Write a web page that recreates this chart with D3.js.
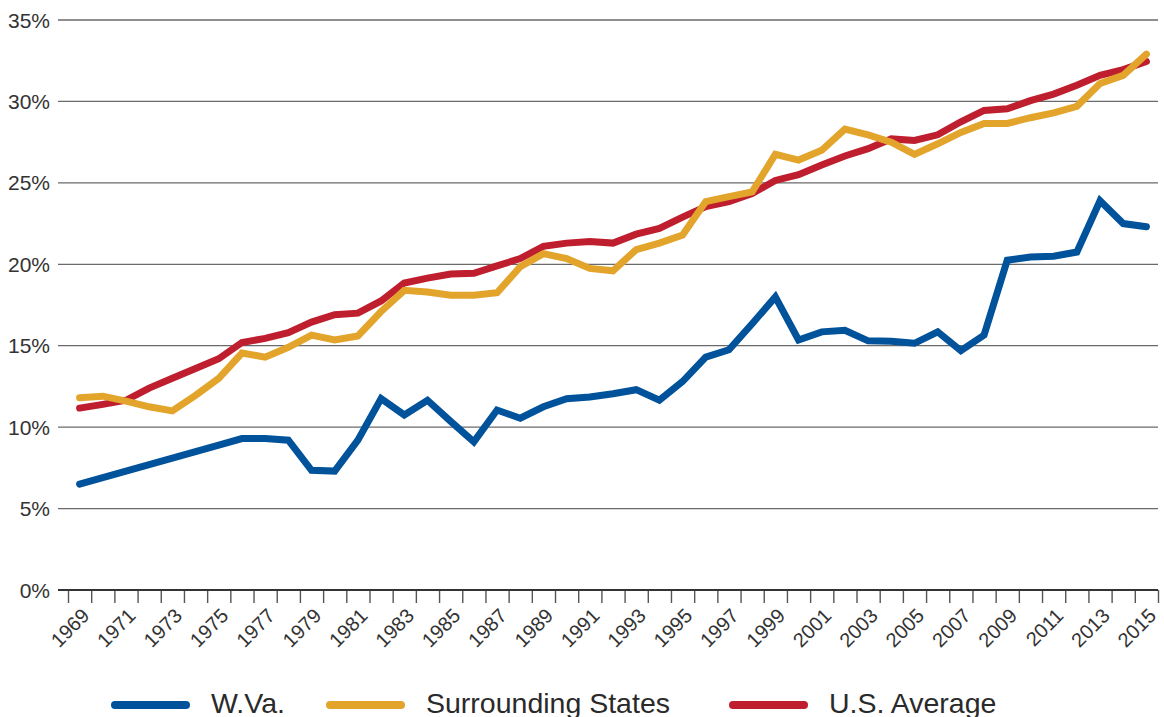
<!doctype html>
<html>
<head>
    <style>
        body {
            margin: 0;
            background: #fff;
            overflow: hidden;
            font-family: "Liberation Sans", Arial, "Helvetica", sans-serif;
        }
        svg { display: block; }
    </style>
    <script src="https://d3js.org/d3.v7.min.js"></script>
</head>
<body>
<svg width="1164" height="717"></svg>
<script>
    // years and series (percent)
    var years = d3.range(1969, 2016);
    var wva = [6.5, 6.9, 7.3, 7.7, 8.1, 8.5, 8.9, 9.3, 9.3, 9.2,
               7.35, 7.3, 9.2, 11.75, 10.75, 11.65, 10.35, 9.1, 11.05, 10.55,
               11.25, 11.75, 11.85, 12.05, 12.3, 11.65, 12.8, 14.3, 14.75, 16.35,
               18.0, 15.35, 15.85, 15.95, 15.3, 15.28, 15.15, 15.85, 14.7, 15.65,
               20.25, 20.45, 20.5, 20.75, 23.9, 22.5, 22.3];
    var surrounding = [11.8, 11.9, 11.6, 11.25, 11.0, 11.95, 13.0, 14.55, 14.3, 14.9,
               15.65, 15.35, 15.6, 17.1, 18.4, 18.3, 18.1, 18.1, 18.25, 19.85,
               20.65, 20.35, 19.75, 19.6, 20.9, 21.3, 21.8, 23.85, 24.15, 24.45,
               26.75, 26.4, 27.0, 28.3, 27.95, 27.5, 26.75, 27.4, 28.1, 28.65,
               28.65, 29.0, 29.3, 29.7, 31.1, 31.6, 32.9];
    var usAvg = [11.17, 11.4, 11.65, 12.4, 13.0, 13.6, 14.2, 15.2, 15.45, 15.8,
               16.45, 16.9, 17.0, 17.75, 18.85, 19.15, 19.4, 19.45, 19.9, 20.35,
               21.1, 21.3, 21.4, 21.3, 21.85, 22.2, 22.9, 23.55, 23.85, 24.35,
               25.15, 25.5, 26.1, 26.65, 27.1, 27.7, 27.6, 27.95, 28.75, 29.45,
               29.55, 30.05, 30.45, 31.0, 31.6, 31.95, 32.45];
    var yTicks = [0, 5, 10, 15, 20, 25, 30, 35];
    var labelYears = years.filter(function(d) { return d % 2 === 1; });

    var series = [
        { name: "W.Va.", values: wva, color: "#00529b" },
        { name: "U.S. Average", values: usAvg, color: "#be1e2d" },
        { name: "Surrounding States", values: surrounding, color: "#e2a42b" }
    ];
    var legendOrder = ["W.Va.", "Surrounding States", "U.S. Average"];

    var svg = d3.select("svg");
    var plotLeft = 58, plotRight = 1158, plotTop = 20, plotBottom = 590;

    var x = d3.scaleLinear().domain([1968.5, 2015.5]).range([68, plotRight]);
    var y = d3.scaleLinear().domain([0, 35]).range([plotBottom, plotTop]);

    // grid lines
    svg.append("g")
        .selectAll("line")
        .data(yTicks.filter(function(d) { return d > 0; }))
        .enter()
        .append("line")
        .attr("x1", plotLeft)
        .attr("x2", plotRight)
        .attr("y1", function(d) { return y(d); })
        .attr("y2", function(d) { return y(d); })
        .attr("stroke", "#6a6a6a")
        .attr("stroke-width", 1.3);

    // y labels
    svg.append("g")
        .selectAll("text")
        .data(yTicks)
        .enter()
        .append("text")
        .attr("x", 50)
        .attr("y", function(d) { return y(d); })
        .attr("dy", "0.36em")
        .attr("text-anchor", "end")
        .attr("font-size", "21px")
        .attr("fill", "#333")
        .text(function(d) { return d + "%"; });

    // x axis: ticks between years
    var xAxis = svg.append("g")
        .attr("transform", "translate(0," + plotBottom + ")")
        .call(d3.axisBottom(x)
            .tickValues(years.map(function(d) { return d - 0.5; }).concat([2015.5]))
            .tickSize(13)
            .tickFormat(""));
    xAxis.select(".domain").remove();
    xAxis.selectAll(".tick line").attr("stroke", "#555").attr("stroke-width", 1.4);

    svg.append("line")
        .attr("x1", plotLeft)
        .attr("x2", plotRight)
        .attr("y1", y(0))
        .attr("y2", y(0))
        .attr("stroke", "#333")
        .attr("stroke-width", 2);

    // year labels
    svg.append("g")
        .selectAll("text")
        .data(labelYears)
        .enter()
        .append("text")
        .attr("transform", function(d) {
            return "translate(" + (x(d) + 11) + "," + 617 + ") rotate(-45)";
        })
        .attr("text-anchor", "end")
        .attr("font-size", "20px")
        .attr("fill", "#333")
        .text(function(d) { return d; });

    // lines
    var line = d3.line()
        .x(function(d, i) { return x(years[i]); })
        .y(function(d) { return y(d); });

    svg.append("g")
        .selectAll("path")
        .data(series)
        .enter()
        .append("path")
        .attr("d", function(d) { return line(d.values); })
        .attr("fill", "none")
        .attr("stroke", function(d) { return d.color; })
        .attr("stroke-width", 7)
        .attr("stroke-linecap", "round")
        .attr("stroke-linejoin", "miter");

    // legend
    var legendX = [115, 330, 733];
    var legend = svg.append("g")
        .selectAll("g")
        .data(legendOrder)
        .enter()
        .append("g")
        .attr("transform", function(d, i) { return "translate(" + legendX[i] + ",705)"; });

    legend.append("line")
        .attr("x1", 0)
        .attr("x2", 71)
        .attr("stroke", function(d) {
            return series.filter(function(s) { return s.name === d; })[0].color;
        })
        .attr("stroke-width", 8)
        .attr("stroke-linecap", "round");

    legend.append("text")
        .attr("x", 96)
        .attr("y", 8)
        .attr("font-size", "28.5px")
        .attr("fill", "#2a2a2a")
        .text(function(d) { return d; });
</script>
</body>
</html>
